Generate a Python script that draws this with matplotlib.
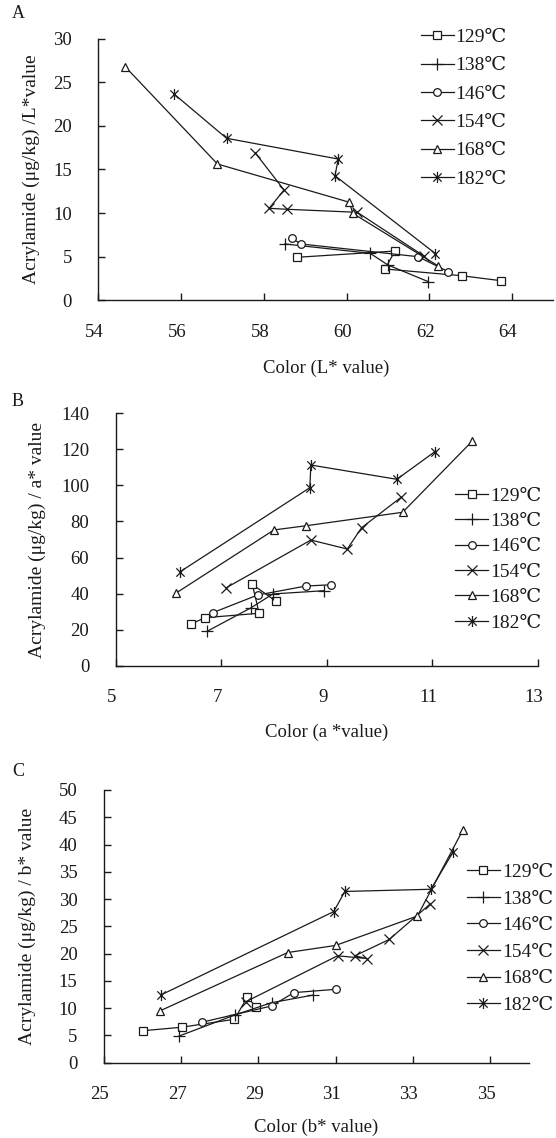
import matplotlib
matplotlib.use("Agg")
import matplotlib.pyplot as plt
from matplotlib.path import Path
import matplotlib.transforms as mtransforms

# ---------------- data ----------------
temps = ["129℃", "138℃", "146℃", "154℃", "168℃", "182℃"]

# Panel A: L* value
A_129_x = [58.80, 61.17, 60.93, 62.78, 63.73]
A_129_y = [4.93, 5.65, 3.59, 2.82, 2.25]
A_138_x = [58.51, 60.57, 61.00, 61.98]
A_138_y = [6.46, 5.39, 4.05, 2.13]
A_146_x = [58.67, 58.90, 61.73, 62.46]
A_146_y = [7.11, 6.46, 5.00, 3.28]
A_154_x = [57.79, 58.49, 58.13, 58.55, 60.26, 61.87]
A_154_y = [16.93, 12.65, 10.55, 10.44, 10.09, 5.08]
A_168_x = [54.65, 56.88, 60.07, 60.15, 62.22]
A_168_y = [26.79, 15.63, 11.24, 9.98, 3.93]
A_182_x = [55.84, 57.10, 59.80, 59.72, 62.15]
A_182_y = [23.62, 18.58, 16.20, 14.29, 5.35]

# Panel B: a* value
B_129_x = [6.42, 6.69, 7.72, 7.59, 8.03]
B_129_y = [23.0, 26.6, 29.1, 45.1, 35.9]
B_138_x = [6.74, 7.57, 7.98, 8.95]
B_138_y = [19.2, 32.2, 39.8, 41.6]
B_146_x = [6.84, 7.69, 8.61, 9.09]
B_146_y = [29.4, 39.2, 44.2, 44.9]
B_154_x = [7.10, 8.70, 9.39, 9.66, 10.41]
B_154_y = [43.3, 69.7, 64.7, 76.5, 93.4]
B_168_x = [6.14, 8.00, 8.60, 10.44, 11.76]
B_168_y = [40.2, 75.3, 77.6, 85.1, 124.6]
B_182_x = [6.22, 8.68, 8.70, 10.33, 11.05]
B_182_y = [52.1, 98.7, 111.3, 103.4, 118.7]

# Panel C: b* value
C_129_x = [26.02, 27.01, 28.38, 28.71, 28.94]
C_129_y = [5.87, 6.50, 7.96, 12.0, 10.28]
C_138_x = [26.95, 28.39, 29.34, 30.42]
C_138_y = [4.90, 8.75, 11.0, 12.4]
C_146_x = [27.53, 29.34, 29.92, 31.01]
C_146_y = [7.41, 10.4, 12.85, 13.46]
C_154_x = [28.68, 31.05, 31.81, 31.50, 32.39, 33.45]
C_154_y = [11.2, 19.6, 19.1, 19.6, 22.6, 29.1]
C_168_x = [26.45, 29.76, 31.00, 33.12, 34.30]
C_168_y = [9.5, 20.2, 21.5, 26.9, 42.7]
C_182_x = [26.47, 30.95, 31.24, 33.47, 34.05]
C_182_y = [12.4, 27.7, 31.4, 31.8, 38.7]

x_labels = ["Color (L* value)", "Color (a *value)", "Color (b* value)"]
y_labels = ["Acrylamide (μg/kg) /L*value", "Acrylamide (μg/kg) / a* value",
            "Acrylamide (μg/kg) / b* value"]
panel_letters = ["A", "B", "C"]

# ---------------- style ----------------
W, H = 556, 1138
DPI = 100
FAM = ["Liberation Serif", "DejaVu Serif", "Noto Sans CJK SC"]
plt.rcParams["font.family"] = FAM
plt.rcParams["mathtext.fontset"] = "dejavuserif"
INK = "#1a1a1a"

star = Path([(0, -1), (0, 1), (-0.75, -0.75), (0.75, 0.75), (-0.75, 0.75), (0.75, -0.75)],
            [Path.MOVETO, Path.LINETO, Path.MOVETO, Path.LINETO, Path.MOVETO, Path.LINETO])
markers = ["s", "+", "o", "x", "^", star]
msizes = [5.5, 8, 5.5, 7, 6, 8]

fig = plt.figure(figsize=(W / DPI, H / DPI), dpi=DPI)


def add_axes_px(left, right, top, bottom):
    return fig.add_axes([left / W, 1 - bottom / H, (right - left) / W, (bottom - top) / H])


panels = [
    dict(box=(98.3, 553.4, 38.7, 300.3), xlim=(54, 65), xt=range(54, 65, 2), ylim=(0, 30), yt=range(0, 31, 5),
         data=[(A_129_x, A_129_y), (A_138_x, A_138_y), (A_146_x, A_146_y), (A_154_x, A_154_y),
               (A_168_x, A_168_y), (A_182_x, A_182_y)],
         leg=(420.5, 28.5), ls=0.55, ylab_x=40, xlab_y=360, letter=(12, 14)),
    dict(box=(115.7, 537.7, 413.3, 665.7), xlim=(5, 13), xt=range(5, 14, 2), ylim=(0, 140), yt=range(0, 141, 20),
         data=[(B_129_x, B_129_y), (B_138_x, B_138_y), (B_146_x, B_146_y), (B_154_x, B_154_y),
               (B_168_x, B_168_y), (B_182_x, B_182_y)],
         leg=(455.4, 487.0), ls=0.40, ylab_x=46, xlab_y=724, letter=(12, 402)),
    dict(box=(104.0, 528.6, 790.0, 1062.7), xlim=(25, 36), xt=range(25, 36, 2), ylim=(0, 50), yt=range(0, 51, 5),
         data=[(C_129_x, C_129_y), (C_138_x, C_138_y), (C_146_x, C_146_y), (C_154_x, C_154_y),
               (C_168_x, C_168_y), (C_182_x, C_182_y)],
         leg=(466.8, 863.5), ls=0.46, ylab_x=36, xlab_y=1119, letter=(12, 772)),
]

for i, p in enumerate(panels):
    l, r, t, b = p["box"]
    ax = add_axes_px(l, r, t, b)
    for k, (xs, ys) in enumerate(p["data"]):
        ax.plot(xs, ys, color=INK, lw=0.9, marker=markers[k], ms=msizes[k],
                mfc="white" if k in (0, 2, 4) else INK, mec=INK, mew=0.9, label=temps[k],
                clip_on=False)
    ax.set_xlim(*p["xlim"])
    ax.set_ylim(*p["ylim"])
    ax.set_xticks(list(p["xt"]))
    ax.set_yticks(list(p["yt"]))
    for s in ("top", "right"):
        ax.spines[s].set_visible(False)
    for s in ("left", "bottom"):
        ax.spines[s].set_color(INK)
        ax.spines[s].set_linewidth(1.0)
    ax.tick_params(direction="in", length=5, width=1.0, color=INK, labelsize=13.5,
                   labelcolor=INK)
    ax.tick_params(axis="x", pad=17)
    ax.tick_params(axis="y", pad=19)
    # shift x tick labels slightly left as in the reference
    off = mtransforms.ScaledTranslation(-4 / DPI, 0, fig.dpi_scale_trans)
    for lab in ax.get_xticklabels():
        lab.set_transform(lab.get_transform() + off)
    ax.set_xlabel(x_labels[i], fontsize=13.5, color=INK)
    ax.set_ylabel(y_labels[i], fontsize=14, color=INK)
    wpx, hpx = r - l, b - t
    ax.yaxis.set_label_coords((p["ylab_x"] - l) / wpx, 0.5)
    ax.xaxis.set_label_coords(0.5, (b - p["xlab_y"]) / hpx)
    lx, ly = p["leg"]
    ax.legend(loc="upper left", bbox_to_anchor=(lx / W, 1 - ly / H), bbox_transform=fig.transFigure,
              frameon=False, fontsize=14, handlelength=1.7, handletextpad=0.1,
              labelspacing=p["ls"], borderpad=0, borderaxespad=0, labelcolor=INK)
    fig.text(p["letter"][0] / W, 1 - p["letter"][1] / H, panel_letters[i], fontsize=13, color=INK,
             ha="left", va="center")

fig.savefig("out.png", dpi=DPI)
